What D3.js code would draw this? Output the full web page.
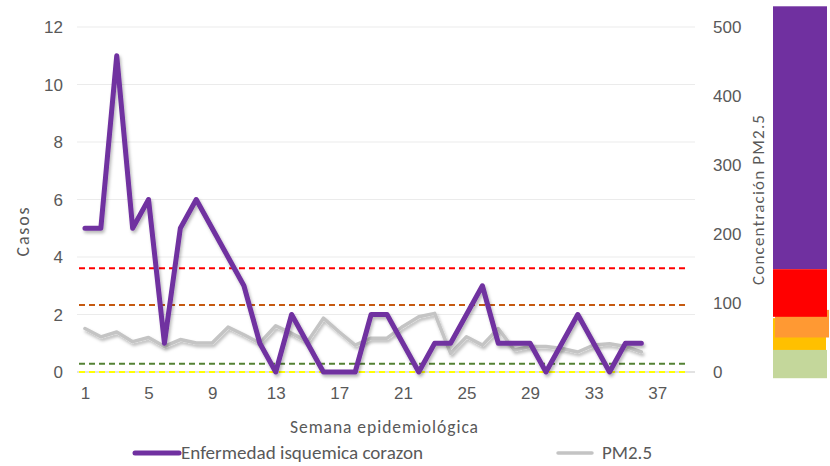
<!DOCTYPE html>
<html>
<head>
<meta charset="utf-8">
<script src="https://cdn.jsdelivr.net/npm/d3@7"></script>
<style>
  html, body { margin: 0; padding: 0; background: #fff; }
  svg { display: block; font-family: Carlito, Calibri, Lato, "Open Sans", sans-serif; }
</style>
</head>
<body>
<svg id="chart" width="830" height="466"></svg>
<script>
// Epidemiological weeks shown on the category axis
const weeks = d3.range(1, 40);
const weekTicks = [1, 5, 9, 13, 17, 21, 25, 29, 33, 37];

// Weekly cases of ischaemic heart disease (left axis)
const casos = [5, 5, 11, 5, 6, 1, 5, 6, 5, 4, 3, 1, 0, 2, 1, 0, 0, 0, 2, 2,
               1, 0, 1, 1, 2, 3, 1, 1, 1, 0, 1, 2, 1, 0, 1, 1];

// Weekly PM2.5 concentration (right axis)
const pm25 = [63, 51, 58, 44, 50, 37, 47, 42, 42, 65, 54, 42, 67, 56, 44, 78, 58, 39, 49, 49,
              66, 80, 85, 27, 51, 39, 63, 32, 37, 37, 34, 29, 39, 41, 37, 29];

// Reference thresholds on the PM2.5 axis
const thresholds = [
  { value: 150.4, color: "#FF0000" },
  { value: 97, color: "#C55A11" },
  { value: 12, color: "#548235" },
  { value: 0, color: "#FFFF00" }
];

// Air quality colour bands (PM2.5 units), listed in drawing order
const bands = [
  { from: 530, to: 149, color: "#7030A0", dx0: 0, dx1: 0 },
  { from: 78, to: 22, color: "#FFC000", dx0: 0, dx1: -1 },
  { from: 90, to: 50, color: "#FF9933", dx0: 2, dx1: 2 },
  { from: 149, to: 80, color: "#FF0000", dx0: 0, dx1: 0 },
  { from: 32, to: -9, color: "#C4D79B", dx0: 0, dx1: 0 }
];

const leftTicks = [0, 2, 4, 6, 8, 10, 12];
const rightTicks = [0, 100, 200, 300, 400, 500];

const svg = d3.select("#chart");
const plot = { left: 77, right: 697, top: 27, bottom: 372 };

const x = d3.scaleLinear().domain([0.5, 39.5]).range([plot.left, plot.right]);
const yL = d3.scaleLinear().domain([0, 12]).range([plot.bottom, plot.top]);
const yR = d3.scaleLinear().domain([0, 500]).range([plot.bottom, plot.top]);

// Soft drop shadow used by both series lines
const defs = svg.append("defs");
const f = defs.append("filter").attr("id", "shadow")
  .attr("x", "-5%").attr("y", "-20%").attr("width", "110%").attr("height", "140%");
f.append("feDropShadow").attr("dx", 1.5).attr("dy", 2.5)
  .attr("stdDeviation", 1.6).attr("flood-color", "#000").attr("flood-opacity", 0.28);

const textColor = "#595959";

// Horizontal gridlines
svg.append("g")
  .selectAll("line")
  .data(leftTicks.filter(d => d > 0))
  .join("line")
  .attr("x1", plot.left).attr("x2", plot.right - 2)
  .attr("y1", d => yL(d)).attr("y2", d => yL(d))
  .attr("stroke", "#EBEBEB").attr("stroke-width", 1.2);

// Left axis
const axisL = svg.append("g")
  .attr("transform", `translate(${plot.left - 14},0)`)
  .call(d3.axisLeft(yL).tickValues(leftTicks).tickSize(0).tickPadding(0));
axisL.select(".domain").remove();
axisL.selectAll("text").attr("fill", textColor).attr("font-size", 17).attr("dy", "0.34em");

// Right axis
const axisR = svg.append("g")
  .attr("transform", `translate(${plot.right + 16},0)`)
  .call(d3.axisRight(yR).tickValues(rightTicks).tickSize(0).tickPadding(0));
axisR.select(".domain").remove();
axisR.selectAll("text").attr("fill", textColor).attr("font-size", 17).attr("dy", "0.34em");

// Bottom axis
const axisB = svg.append("g")
  .attr("transform", `translate(0,${plot.bottom})`)
  .call(d3.axisBottom(x).tickValues(weekTicks).tickSize(0).tickPadding(15));
axisB.select(".domain").remove();
axisB.selectAll("text").attr("fill", textColor).attr("font-size", 17);

svg.append("line")
  .attr("x1", plot.left).attr("x2", plot.right - 2)
  .attr("y1", plot.bottom).attr("y2", plot.bottom)
  .attr("stroke", "#D9D9D9").attr("stroke-width", 1.5);

// Threshold lines
svg.append("g")
  .selectAll("line")
  .data(thresholds)
  .join("line")
  .attr("x1", plot.left + 2).attr("x2", plot.right - 9)
  .attr("y1", d => yR(d.value)).attr("y2", d => yR(d.value))
  .attr("stroke", d => d.color).attr("stroke-width", 2)
  .attr("stroke-dasharray", "6,4");

// PM2.5 series
svg.append("path")
  .datum(pm25)
  .attr("fill", "none")
  .attr("stroke", "#C4C4C4").attr("stroke-width", 3.5)
  .attr("stroke-linejoin", "round").attr("stroke-linecap", "round")
  .attr("filter", "url(#shadow)")
  .attr("d", d3.line().x((d, i) => x(weeks[i])).y(d => yR(d)));

// Cases series
svg.append("path")
  .datum(casos)
  .attr("fill", "none")
  .attr("stroke", "#7030A0").attr("stroke-width", 5)
  .attr("stroke-linejoin", "round").attr("stroke-linecap", "round")
  .attr("filter", "url(#shadow)")
  .attr("d", d3.line().x((d, i) => x(weeks[i])).y(d => yL(d)));

// Air quality colour bar
svg.append("g")
  .selectAll("rect")
  .data(bands)
  .join("rect")
  .attr("x", d => 773 + d.dx0)
  .attr("width", d => 54 + d.dx1 - d.dx0)
  .attr("y", d => yR(d.from))
  .attr("height", d => yR(d.to) - yR(d.from))
  .attr("fill", d => d.color);

// Axis titles
svg.append("text")
  .attr("transform", "translate(29,232) rotate(-90)")
  .attr("text-anchor", "middle")
  .attr("fill", textColor).attr("font-size", 18)
  .attr("textLength", 49).attr("lengthAdjust", "spacing")
  .text("Casos");

svg.append("text")
  .attr("transform", "translate(764,200) rotate(-90)")
  .attr("text-anchor", "middle")
  .attr("fill", textColor).attr("font-size", 17)
  .attr("textLength", 170).attr("lengthAdjust", "spacing")
  .text("Concentración PM2.5");

svg.append("text")
  .attr("x", 384).attr("y", 433)
  .attr("text-anchor", "middle")
  .attr("fill", textColor).attr("font-size", 17.5)
  .attr("textLength", 188).attr("lengthAdjust", "spacing")
  .text("Semana epidemiológica");

// Legend
const legend = [
  { label: "Enfermedad isquemica corazon", color: "#7030A0", width: 5, x0: 135, x1: 179, tx: 181, len: 242 },
  { label: "PM2.5", color: "#C4C4C4", width: 3.5, x0: 558, x1: 592, tx: 602, len: 50 }
];
const lg = svg.append("g").selectAll("g").data(legend).join("g");
lg.append("line")
  .attr("x1", d => d.x0).attr("x2", d => d.x1)
  .attr("y1", 453).attr("y2", 453)
  .attr("stroke", d => d.color).attr("stroke-width", d => d.width)
  .attr("stroke-linecap", "round");
lg.append("text")
  .attr("x", d => d.tx).attr("y", 459)
  .attr("fill", textColor).attr("font-size", 18)
  .attr("textLength", d => d.len).attr("lengthAdjust", "spacingAndGlyphs")
  .text(d => d.label);
</script>
</body>
</html>
